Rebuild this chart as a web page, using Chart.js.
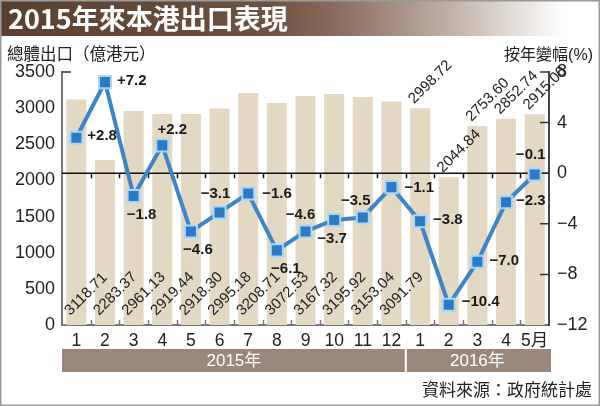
<!DOCTYPE html>
<html>
<head>
<meta charset="utf-8">
<script src="https://cdn.jsdelivr.net/npm/chart.js@4.4.0/dist/chart.umd.min.js"></script>
<style>
html, body { margin: 0; padding: 0; background: #fff; }
#wrap { width: 600px; height: 406px; position: relative; }
</style>
</head>
<body>
<div id="wrap"><canvas id="chart" width="600" height="406"></canvas></div>
<script>
const titleText = '2015年來本港出口表現'
const leftTitle = '總體出口（億港元）'
const rightTitle = '按年變幅(%)'
const sourceText = '資料來源：政府統計處'
const months = ['1', '2', '3', '4', '5', '6', '7', '8', '9', '10', '11', '12', '1', '2', '3', '4', '5月']
const years = ['2015年', '2016年']
const monthsPerYear = [12, 5]
const exportsValue = [3118.71, 2283.37, 2961.13, 2919.44, 2918.30, 2995.18, 3208.71, 3072.53, 3167.32, 3195.92, 3153.04, 3091.79, 2998.72, 2044.84, 2753.60, 2852.74, 2915.00]
const yoyChange = [2.8, 7.2, -1.8, 2.2, -4.6, -3.1, -1.6, -6.1, -4.6, -3.7, -3.5, -1.1, -3.8, -10.4, -7.0, -2.3, -0.1]

// where each % label sits around its point: [dx, dy, align]
const labelPlace = [
    [11, -2, 'left'], [12, -1, 'left'], [8, 19, 'center'], [10, -16, 'center'],
    [7, 18, 'center'], [-4, -19, 'center'], [14, 0, 'left'], [9, 18, 'center'],
    [-5, -17, 'center'], [-2, 19, 'center'], [-7, -17, 'center'], [13, 1, 'left'],
    [13, -1, 'left'], [13, -3, 'left'], [12, -1, 'left'], [10, -1, 'left'], [-4, -20, 'center']
]

const cjk = '"Noto Sans CJK TC", "Noto Sans CJK SC", sans-serif'
const latin = '"Liberation Sans", "Noto Sans CJK TC", sans-serif'
const narrow = '"Liberation Sans Narrow", "Liberation Sans", sans-serif'

function fmtPct(v) {
    const s = Math.abs(v).toFixed(1)
    return v > 0 ? '+' + s : '\u2212' + s
}

const decorations = {
    id: 'decorations',
    beforeDraw(chart) {
        const {ctx, width, height, chartArea} = chart
        ctx.save()
        ctx.fillStyle = '#fff'
        ctx.fillRect(0, 0, width, height)

        // title bar
        const g = ctx.createLinearGradient(0, 0, width, 0)
        g.addColorStop(0, '#5a3e2e')
        g.addColorStop(0.45, '#6e5241')
        g.addColorStop(0.55, '#86695a')
        g.addColorStop(0.75, '#bfb1a6')
        g.addColorStop(0.94, '#ffffff')
        ctx.fillStyle = g
        ctx.fillRect(0, 0, width, 36)
        ctx.fillStyle = '#fff'
        ctx.font = 'bold 27px ' + cjk
        ctx.textBaseline = 'middle'
        ctx.textAlign = 'left'
        ctx.fillText(titleText, 8, 19)

        // axis titles
        ctx.fillStyle = '#222'
        ctx.font = '16.5px ' + cjk
        ctx.fillText(leftTitle, 7, 54)
        ctx.textAlign = 'right'
        ctx.font = '16px ' + latin
        ctx.fillText(rightTitle, 593, 56)

        // year band
        const step = (chartArea.right - chartArea.left) / months.length
        let x0 = chartArea.left
        years.forEach((y, i) => {
            const x1 = x0 + monthsPerYear[i] * step
            const right = i === years.length - 1 ? x1 + 2 : x1 - 1
            ctx.fillStyle = '#9a877b'
            ctx.fillRect(x0 + (i ? 1 : 0), 349, right - x0 - (i ? 1 : 0), 23)
            ctx.fillStyle = '#fff'
            ctx.font = '17px ' + latin
            ctx.textAlign = 'center'
            ctx.fillText(y, (x0 + x1) / 2, 361)
            x0 = x1
        })

        // source
        ctx.fillStyle = '#222'
        ctx.textAlign = 'right'
        ctx.font = '17px ' + cjk
        ctx.fillText(sourceText, 592, 390)

        // frame
        ctx.strokeStyle = '#9a9a9a'
        ctx.lineWidth = 1.5
        ctx.strokeRect(0.75, 0.75, width - 1.5, height - 1.5)
        ctx.restore()
    },
    afterDatasetDraw(chart, args) {
        if (args.index !== 0) return
        const {ctx, chartArea, scales} = chart
        const y0 = scales.y1.getPixelForValue(0)
        const step = (chartArea.right - chartArea.left) / months.length
        ctx.save()
        // zero line
        ctx.strokeStyle = '#111'
        ctx.lineWidth = 1.5
        ctx.beginPath()
        ctx.moveTo(chartArea.left, y0)
        ctx.lineTo(chartArea.right, y0)
        // ticks between months
        for (let i = 1; i < months.length; i++) {
            const x = Math.round(chartArea.left + i * step) + 0.5
            ctx.moveTo(x, y0)
            ctx.lineTo(x, y0 + 5)
        }
        ctx.stroke()
        ctx.strokeStyle = '#777'
        ctx.beginPath()
        for (let i = 1; i < months.length; i++) {
            const x = Math.round(chartArea.left + i * step) + 0.5
            ctx.moveTo(x, chartArea.bottom)
            ctx.lineTo(x, chartArea.bottom - 5)
        }
        ctx.stroke()
        // right axis inner ticks
        ctx.strokeStyle = '#333'
        ctx.beginPath()
        scales.y1.ticks.forEach(t => {
            if (t.value <= scales.y1.min) return
            const y = scales.y1.getPixelForValue(t.value)
            ctx.moveTo(chartArea.right - 9, y)
            ctx.lineTo(chartArea.right, y)
        })
        ctx.moveTo(chartArea.left, chartArea.top)
        ctx.lineTo(chartArea.left + 9, chartArea.top)
        ctx.stroke()

        // bar values
        const meta = chart.getDatasetMeta(0)
        ctx.fillStyle = '#222'
        ctx.font = '15px ' + narrow
        ctx.textAlign = 'left'
        ctx.textBaseline = 'alphabetic'
        meta.data.forEach((bar, i) => {
            ctx.save()
            if (i < monthsPerYear[0]) ctx.translate(bar.x - 6, chartArea.bottom - 9)
            else ctx.translate(bar.x - 6, bar.y - 4)
            ctx.rotate(-Math.PI / 4)
            ctx.fillText(exportsValue[i].toFixed(2), 0, 0)
            ctx.restore()
        })
        ctx.restore()
    },
    afterDatasetsDraw(chart) {
        const {ctx} = chart
        const meta = chart.getDatasetMeta(1)
        ctx.save()
        ctx.fillStyle = '#1a1a1a'
        ctx.font = 'bold 15px ' + narrow
        ctx.textBaseline = 'middle'
        meta.data.forEach((pt, i) => {
            const [dx, dy, align] = labelPlace[i]
            ctx.textAlign = align
            ctx.fillText(fmtPct(yoyChange[i]), pt.x + dx, pt.y + dy)
        })
        ctx.restore()
    }
}

new Chart(document.getElementById('chart'), {
    data: {
        labels: months,
        datasets: [
            {
                type: 'bar',
                data: exportsValue,
                backgroundColor: '#e3d9c3',
                barPercentage: 0.7,
                categoryPercentage: 1,
                yAxisID: 'y',
                order: 2
            },
            {
                type: 'line',
                data: yoyChange,
                borderColor: '#3a86c8',
                borderWidth: 4,
                pointStyle: 'rect',
                pointRadius: 8.5,
                pointBackgroundColor: '#2d7ac4',
                pointBorderColor: '#a8d8f5',
                pointBorderWidth: 2,
                tension: 0,
                clip: false,
                yAxisID: 'y1',
                order: 1
            }
        ]
    },
    options: {
        responsive: false,
        animation: false,
        devicePixelRatio: 1,
        layout: { padding: { top: 72, left: 0, right: 0, bottom: 0 } },
        plugins: { legend: { display: false }, tooltip: { enabled: false } },
        scales: {
            x: {
                grid: { display: false, drawTicks: false },
                border: { color: '#777', width: 2 },
                ticks: { color: '#222', font: { size: 17.5, family: latin }, padding: 6, maxRotation: 0, autoSkip: false },
                afterFit: s => { s.height = 81 }
            },
            y: {
                position: 'left',
                min: 0,
                max: 3500,
                grid: { display: false, drawTicks: false },
                border: { color: '#777', width: 2 },
                ticks: { stepSize: 500, color: '#222', font: { size: 18, family: latin }, padding: 7,
                    callback: v => String(v) },
                afterFit: s => { s.width = 62 }
            },
            y1: {
                position: 'right',
                min: -12,
                max: 8,
                grid: { display: false, drawTicks: false },
                border: { color: '#444', width: 2 },
                ticks: { stepSize: 4, color: '#222', font: { size: 18, family: latin }, padding: 8,
                    callback: v => v < 0 ? '\u2212' + Math.abs(v) : String(v) },
                afterFit: s => { s.width = 51 }
            }
        }
    },
    plugins: [decorations]
})
</script>
</body>
</html>
